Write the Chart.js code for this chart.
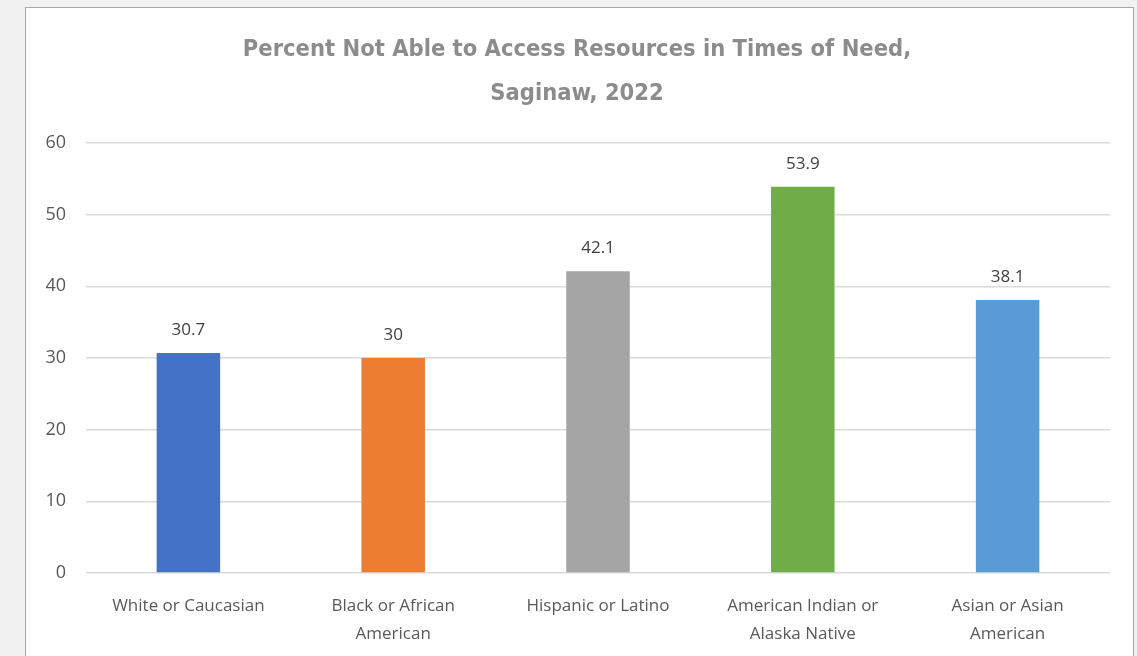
<!DOCTYPE html>
<html>
<head>
<meta charset="utf-8">
<script src="https://cdn.jsdelivr.net/npm/chart.js@4"></script>
<style>
  html, body { margin: 0; padding: 0; background: #f1f1f1; overflow: hidden; }
  #frame {
    position: absolute; left: 25px; top: 7px;
    width: 1107px; height: 700px;
    background: #fff; border: 1px solid #a6a6a6;
  }
  #wrap { position: absolute; left: 0; top: 0; width: 1107px; height: 648px; }
</style>
</head>
<body>
<div id="frame"><div id="wrap"><canvas id="mycanvas"></canvas></div></div>
<script>
const categories = [
    'White or Caucasian',
    ['Black or African', 'American'],
    'Hispanic or Latino',
    ['American Indian or', 'Alaska Native'],
    ['Asian or Asian', 'American']
];
const values = [30.7, 30, 42.1, 53.9, 38.1];
const barColors = ['#4472C4', '#ED7D31', '#A5A5A5', '#70AD47', '#5B9BD5'];
const titleLines = ['Percent Not Able to Access Resources in Times of Need,', 'Saginaw, 2022'];

// draws the value above each bar
const valueLabels = {
    id: 'valueLabels',
    afterDatasetsDraw(chart) {
        const ctx = chart.ctx;
        const meta = chart.getDatasetMeta(0);
        ctx.save();
        ctx.font = '17px "Open Sans"';
        ctx.fillStyle = '#404040';
        ctx.textAlign = 'center';
        ctx.textBaseline = 'middle';
        meta.data.forEach((bar, i) => {
            ctx.fillText(String(values[i]), bar.x, bar.y - 23);
        });
        ctx.restore();
    }
};

let ctx = document.getElementById('mycanvas').getContext('2d');
new Chart(ctx, {
    type: 'bar',
    data: {
        labels: categories,
        datasets: [{
            data: values,
            backgroundColor: barColors,
            borderWidth: 0,
            categoryPercentage: 1,
            barPercentage: 0.31
        }]
    },
    options: {
        responsive: true,
        maintainAspectRatio: false,
        animation: false,
        layout: { padding: { left: 18, right: 23, top: 0, bottom: 0 } },
        plugins: {
            legend: { display: false },
            tooltip: { enabled: false },
            title: {
                display: true,
                text: titleLines,
                color: '#8c8c8c',
                font: { family: '"DejaVu Sans Condensed"', size: 23.5, weight: 'bold', lineHeight: '44px' },
                padding: { top: 20, bottom: 27 }
            }
        },
        scales: {
            x: {
                grid: { display: false },
                border: { display: false },
                ticks: {
                    color: '#595959',
                    font: { family: '"Open Sans"', size: 17, lineHeight: 1.6 },
                    padding: 12,
                    maxRotation: 0,
                    autoSkip: false
                },
                afterFit(scale) { scale.height = 83; }
            },
            y: {
                min: 0,
                max: 60,
                ticks: {
                    stepSize: 10,
                    color: '#595959',
                    font: { family: '"Open Sans"', size: 18 },
                    padding: 20
                },
                grid: { color: '#d9d9d9', lineWidth: 1.5, drawTicks: false },
                border: { display: false },
                afterFit(scale) { scale.width = 42; }
            }
        }
    },
    plugins: [valueLabels]
});
</script>
</body>
</html>
